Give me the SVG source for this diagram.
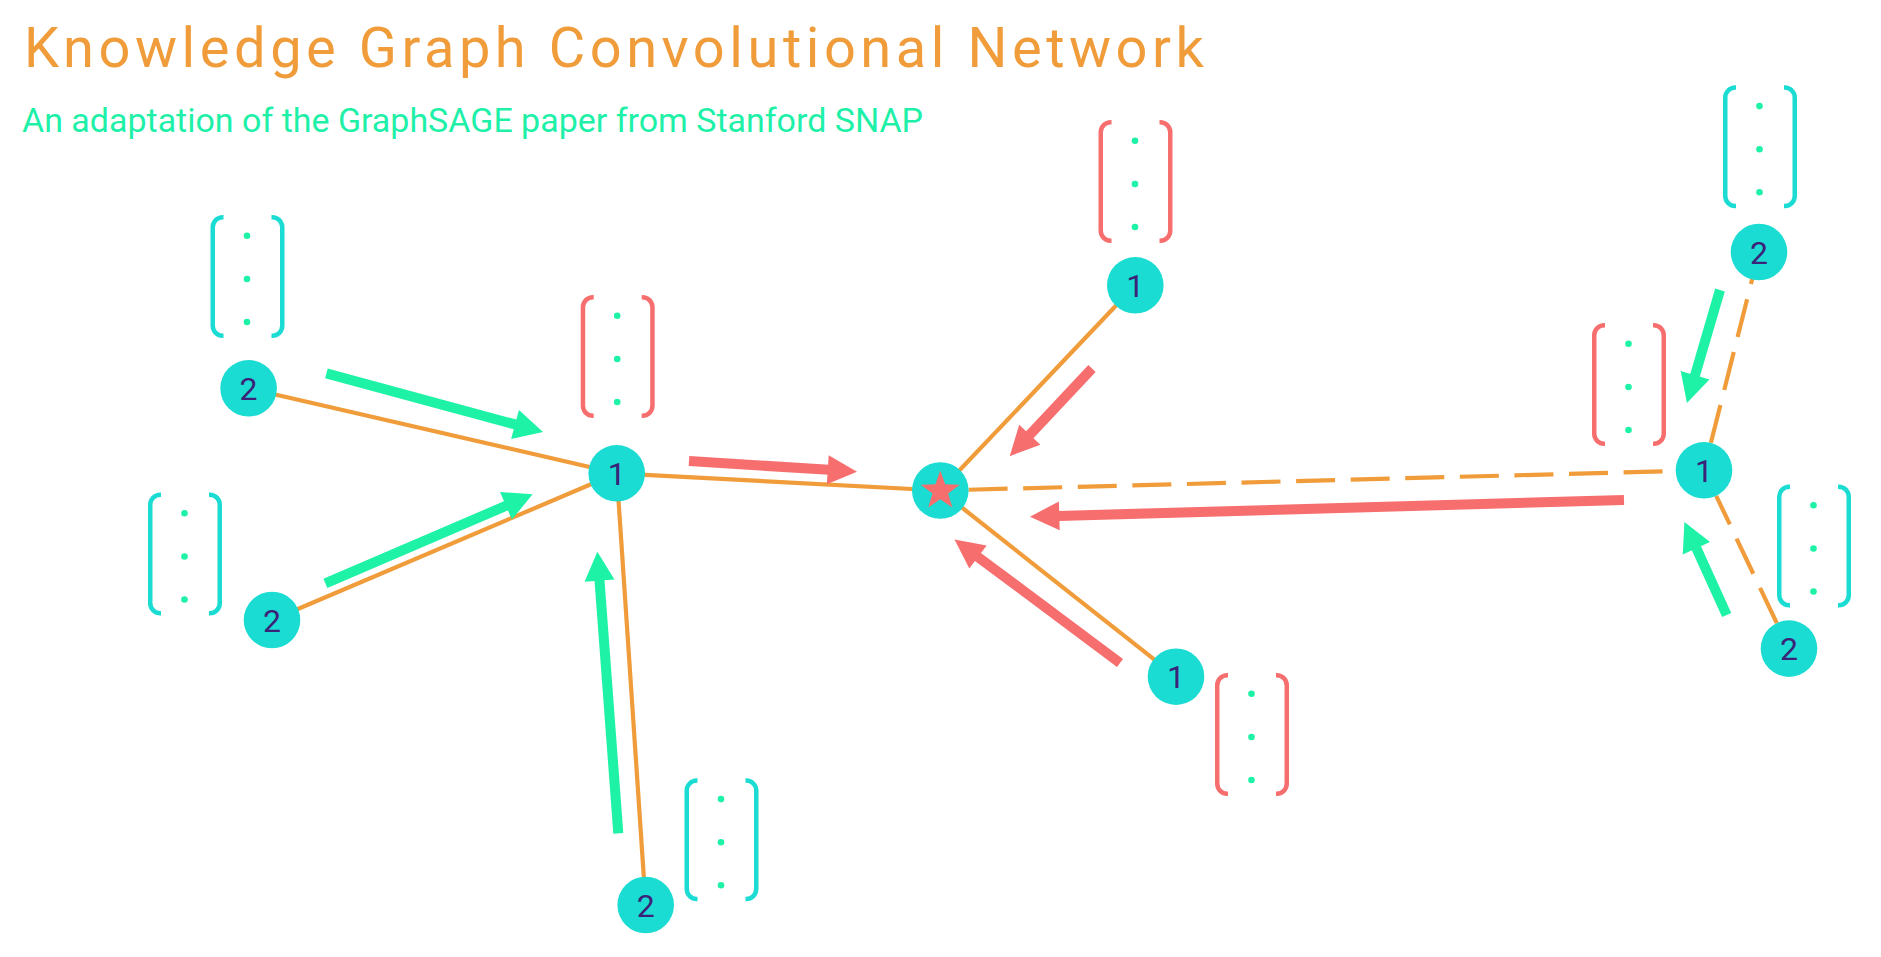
<svg xmlns="http://www.w3.org/2000/svg" xmlns:xlink="http://www.w3.org/1999/xlink" width="1881" height="957" viewBox="0 0 1881 957">
<style>
.title{font-family:Roboto,"Liberation Sans",sans-serif;font-weight:400;font-size:56px;fill:#F09C3A}
.sub{font-family:Roboto,"Liberation Sans",sans-serif;font-size:34px;fill:#1EF0A8}
.node{fill:#1BDCD2}
.lbl{font-family:Roboto,"Liberation Sans",sans-serif;font-size:32px;fill:#3A2378;text-anchor:middle}
.edge{stroke:#F09C3A;stroke-width:4.2;fill:none}
.dash{stroke-dasharray:39 15.6}
.ar{stroke:#F76E6E;stroke-width:10;fill:none;marker-end:url(#hr)}
.ag{stroke:#1EF2A6;stroke-width:10;fill:none;marker-end:url(#hg)}
.bred{stroke:#F76E6E}
.bcy{stroke:#1BDCD2}
</style>
<defs>
<marker id="hr" markerUnits="userSpaceOnUse" markerWidth="30" markerHeight="30" viewBox="0 0 30 30" refX="1" refY="14.5" orient="auto" overflow="visible"><path d="M0,0 L29.3,14.5 L0,29 z" fill="#F76E6E"/></marker>
<marker id="hg" markerUnits="userSpaceOnUse" markerWidth="30" markerHeight="30" viewBox="0 0 30 30" refX="1" refY="15" orient="auto" overflow="visible"><path d="M0,0 L29,15 L0,30 z" fill="#1EF2A6"/></marker>
<g id="bracket">
<path d="M13,2.25 L12.25,2.25 A10,10 0 0 0 2.25,12.25 L2.25,110.75 A10,10 0 0 0 12.25,120.75 L13,120.75" fill="none" stroke-width="4.5"/>
<path d="M61,2.25 L61.75,2.25 A10,10 0 0 1 71.75,12.25 L71.75,110.75 A10,10 0 0 1 61.75,120.75 L61,120.75" fill="none" stroke-width="4.5"/>
<circle cx="36.5" cy="20.8" r="3.3" fill="#1EF2A6" stroke="none"/>
<circle cx="36.5" cy="64" r="3.3" fill="#1EF2A6" stroke="none"/>
<circle cx="36.5" cy="107" r="3.3" fill="#1EF2A6" stroke="none"/>
</g>
</defs>
<rect width="1881" height="957" fill="#FFFFFF"/>
<text class="title" x="24" y="66.5" textLength="1180" lengthAdjust="spacing">Knowledge Graph Convolutional Network</text>
<text class="sub" x="22" y="131.5" textLength="901" lengthAdjust="spacingAndGlyphs">An adaptation of the GraphSAGE paper from Stanford SNAP</text>
<g id="connectors">
<g id="edges">
<line class="edge" x1="248.6" y1="388.3" x2="616.7" y2="473.3"/>
<line class="edge" x1="272" y1="620" x2="616.7" y2="473.3"/>
<line class="edge" x1="645.7" y1="905" x2="616.7" y2="473.3"/>
<line class="edge" x1="616.7" y1="473.3" x2="940.3" y2="490.5"/>
<line class="edge" x1="940.3" y1="490.5" x2="1135.3" y2="285.3"/>
<line class="edge" x1="940.3" y1="490.5" x2="1176" y2="676.7"/>
<line class="edge dash" x1="968.6" y1="489.75" x2="1675.7" y2="471.05"/>
<line class="edge dash" x1="1710.9" y1="442.85" x2="1759" y2="252"/>
<line class="edge dash" x1="1776.8" y1="623.05" x2="1716.2" y2="495.85"/>
</g>
<g id="arrows">
<line class="ar" x1="689" y1="461" x2="828.75" y2="469.86"/>
<line class="ar" x1="1092" y1="368.5" x2="1029.1" y2="435.5"/>
<line class="ar" x1="1120" y1="663" x2="977.2" y2="556.4"/>
<line class="ar" x1="1624" y1="500" x2="1058.3" y2="515.9"/>
<line class="ag" x1="326.4" y1="373.3" x2="516" y2="424.7"/>
<line class="ag" x1="325.4" y1="583.3" x2="506.9" y2="505.4"/>
<line class="ag" x1="618.3" y1="833.3" x2="599.45" y2="579.6"/>
<line class="ag" x1="1720" y1="290" x2="1694.8" y2="376.2"/>
<line class="ag" x1="1726.7" y1="615" x2="1696" y2="547.4"/>
</g>
</g>
<g id="n-target">
<circle class="node" cx="940.3" cy="490.5" r="28.3"/>
<polygon fill="#F76E6E" points="940.3,470.5 945.18,484.29 959.8,484.67 948.19,493.56 952.35,507.58 940.3,499.3 928.25,507.58 932.41,493.56 920.8,484.67 935.42,484.29"/>
</g>
<g id="n-hop1-left">
<use xlink:href="#bracket" class="bred" x="580.7" y="295"/>
<circle class="node" cx="616.7" cy="473.3" r="28.3"/>
<text class="lbl" x="616.7" y="485">1</text>
</g>
<g id="n-hop2-a">
<use xlink:href="#bracket" class="bcy" x="210.5" y="215"/>
<circle class="node" cx="248.6" cy="388.3" r="28.3"/>
<text class="lbl" x="248.6" y="400">2</text>
</g>
<g id="n-hop2-b">
<use xlink:href="#bracket" class="bcy" x="148" y="492.5"/>
<circle class="node" cx="272" cy="620" r="28.3"/>
<text class="lbl" x="272" y="631.7">2</text>
</g>
<g id="n-hop2-c">
<use xlink:href="#bracket" class="bcy" x="684.5" y="778.3"/>
<circle class="node" cx="645.7" cy="905" r="28.3"/>
<text class="lbl" x="645.7" y="916.7">2</text>
</g>
<g id="n-hop1-top">
<use xlink:href="#bracket" class="bred" x="1098.5" y="120"/>
<circle class="node" cx="1135.3" cy="285.3" r="28.3"/>
<text class="lbl" x="1135.3" y="297">1</text>
</g>
<g id="n-hop1-bottom">
<use xlink:href="#bracket" class="bred" x="1215" y="673"/>
<circle class="node" cx="1176" cy="676.7" r="28.3"/>
<text class="lbl" x="1176" y="688.4">1</text>
</g>
<g id="n-hop1-right">
<use xlink:href="#bracket" class="bred" x="1592" y="323"/>
<circle class="node" cx="1704" cy="470.3" r="28.3"/>
<text class="lbl" x="1704" y="482">1</text>
</g>
<g id="n-hop2-d">
<use xlink:href="#bracket" class="bcy" x="1723" y="85.3"/>
<circle class="node" cx="1759" cy="252" r="28.3"/>
<text class="lbl" x="1759" y="263.7">2</text>
</g>
<g id="n-hop2-e">
<use xlink:href="#bracket" class="bcy" x="1777" y="484.5"/>
<circle class="node" cx="1789" cy="648.6" r="28.3"/>
<text class="lbl" x="1789" y="660.3">2</text>
</g>
</svg>
